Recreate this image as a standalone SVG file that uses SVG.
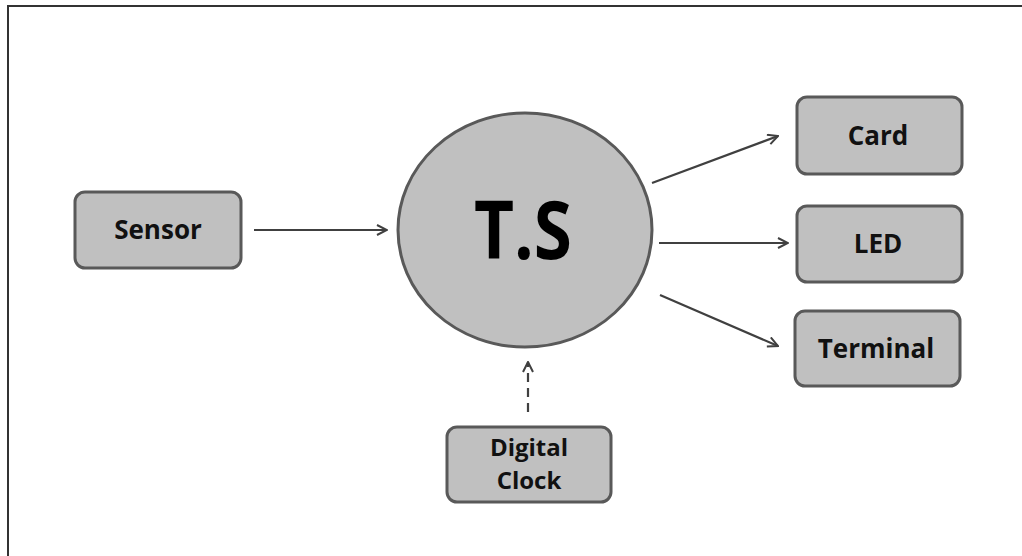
<svg xmlns="http://www.w3.org/2000/svg" width="1022" height="556" viewBox="0 0 1022 556">
<defs>
<marker id="ah" viewBox="0 0 12 12" refX="11" refY="6" markerWidth="12" markerHeight="12" markerUnits="userSpaceOnUse" orient="auto">
<path d="M1,1 L11,6 L1,11" fill="none" stroke="#404040" stroke-width="2"/>
</marker>
<style>
.box{fill:#c0c0c0;stroke:#595959;stroke-width:3}
.lbl{font-family:"Open Sans","Noto Sans",sans-serif;font-weight:bold;font-size:26px;fill:#111;text-anchor:middle}
.sm{font-size:24px}
.con{stroke:#404040;stroke-width:2.2;fill:none}
</style>
</defs>
<rect width="1022" height="556" fill="#fff"/>
<path d="M8,556 V6 H1022" fill="none" stroke="#333" stroke-width="2"/>
<g id="connectors">
<line class="con" x1="254" y1="230" x2="387" y2="230" marker-end="url(#ah)"/>
<line class="con" x1="652" y1="183" x2="778" y2="136" marker-end="url(#ah)"/>
<line class="con" x1="659" y1="243" x2="788" y2="243" marker-end="url(#ah)"/>
<line class="con" x1="660" y1="295" x2="778" y2="346" marker-end="url(#ah)"/>
<line class="con" x1="528" y1="412" x2="528" y2="362" stroke-dasharray="9,6" marker-end="url(#ah)"/>
</g>
<g id="ts">
<ellipse cx="525" cy="230" rx="127" ry="117" fill="#c0c0c0" stroke="#595959" stroke-width="3"/>
<text x="523" y="259" font-family="Open Sans,Noto Sans,sans-serif" font-weight="bold" font-size="80" fill="#000" text-anchor="middle" textLength="98" lengthAdjust="spacingAndGlyphs">T.S</text>
</g>
<g id="sensor">
<rect class="box" x="75" y="192" width="166" height="76" rx="10"/>
<text class="lbl" x="158" y="239">Sensor</text>
</g>
<g id="card">
<rect class="box" x="797" y="97" width="165" height="77" rx="10"/>
<text class="lbl" x="878" y="145">Card</text>
</g>
<g id="led">
<rect class="box" x="797" y="206" width="165" height="76" rx="10"/>
<text class="lbl" x="878" y="253">LED</text>
</g>
<g id="terminal">
<rect class="box" x="795" y="311" width="165" height="75" rx="10"/>
<text class="lbl" x="876" y="358">Terminal</text>
</g>
<g id="clock">
<rect class="box" x="447" y="427" width="164" height="75" rx="10"/>
<text class="lbl sm" x="529" y="456">Digital</text>
<text class="lbl sm" x="529" y="489">Clock</text>
</g>
</svg>
